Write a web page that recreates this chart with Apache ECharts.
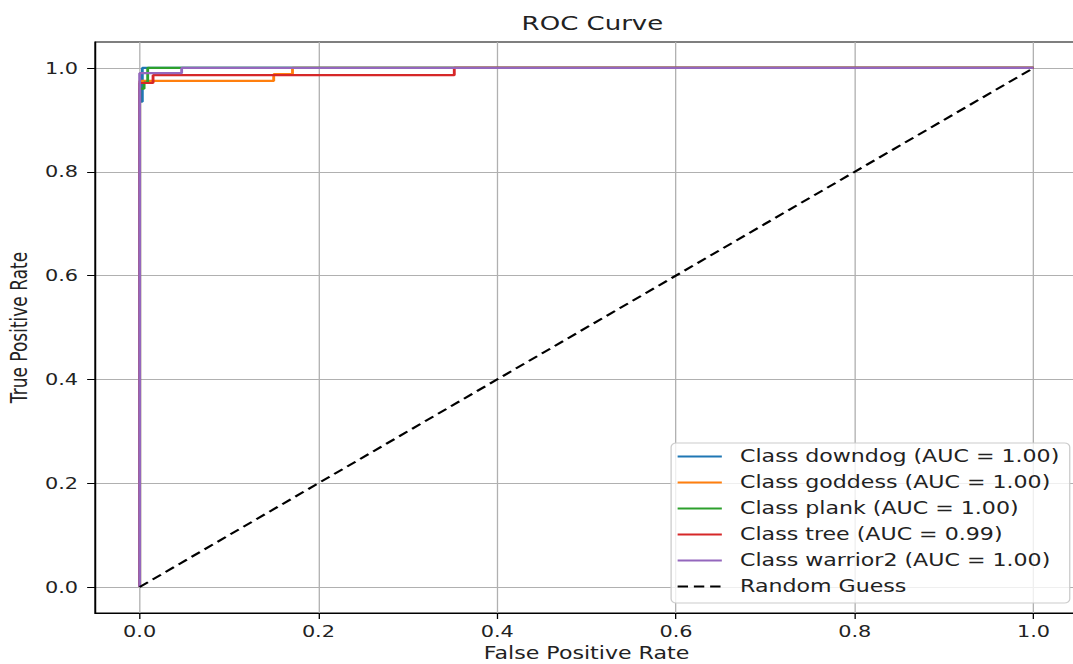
<!DOCTYPE html>
<html><head><meta charset="utf-8">
<script src="https://cdn.jsdelivr.net/npm/echarts@6/dist/echarts.min.js"></script>
<style>html,body{margin:0;padding:0;background:#fff;overflow:hidden}
#wrap{width:1073px;height:664px;overflow:hidden}
#c{width:825px;height:664px;transform:scaleX(1.30061);transform-origin:0 0}</style>
</head><body><div id="wrap"><div id="c"></div></div>
<script>
const tickValues = [0, 0.2, 0.4, 0.6, 0.8, 1.0];
const classNames = ['Class downdog (AUC = 1.00)','Class goddess (AUC = 1.00)','Class plank (AUC = 1.00)','Class tree (AUC = 0.99)','Class warrior2 (AUC = 1.00)'];
const randomName = 'Random Guess';
const downdogFpr = [0, 0, 0.003, 0.003, 1];
const downdogTpr = [0, 0.935, 0.935, 1, 1];
const goddessFpr = [0, 0, 0.15, 0.15, 0.171, 0.171, 1];
const goddessTpr = [0, 0.975, 0.975, 0.988, 0.988, 1, 1];
const plankFpr = [0, 0, 0.005, 0.005, 0.009, 0.009, 1];
const plankTpr = [0, 0.96, 0.96, 0.972, 0.972, 1, 1];
const treeFpr = [0, 0, 0.015, 0.015, 0.352, 0.352, 1];
const treeTpr = [0, 0.971, 0.971, 0.986, 0.986, 1, 1];
const warriorFpr = [0, 0, 0.047, 0.047, 1];
const warriorTpr = [0, 0.99, 0.99, 1, 1];
const randomFpr = [0, 1];
const randomTpr = [0, 1];

const colors = ['#1f77b4','#ff7f0e','#2ca02c','#d62728','#9467bd'];
const curves = [[downdogFpr,downdogTpr],[goddessFpr,goddessTpr],[plankFpr,plankTpr],[treeFpr,treeTpr],[warriorFpr,warriorTpr]];
const zip = (a,b) => a.map((v,i)=>[v,b[i]]);
const font = 'DejaVu Sans';
const series = curves.map((c,i)=>({
  name: classNames[i], type:'line', data: zip(c[0],c[1]), symbol:'none', showSymbol:false,
  lineStyle:{color:colors[i], width:2.2}, itemStyle:{color:colors[i]}, animation:false
}));
series.push({name:randomName, type:'line', data: zip(randomFpr,randomTpr), symbol:'none',
  lineStyle:{color:'#000', width:2, type:[8,4.5]}, itemStyle:{color:'#000'}, animation:false});

const axisCommon = {
  type:'value', min:-0.05, max:1.05,
  axisLine:{show:true, onZero:false, lineStyle:{color:'#000', width:1}},
  axisTick:{show:true, inside:false, customValues:tickValues, length:6, lineStyle:{color:'#000'}},
  axisLabel:{customValues:tickValues, formatter:v=>v.toFixed(1), color:'#222', fontFamily:font, fontSize:16},
  splitLine:{show:true, lineStyle:{color:'#b0b0b0', width:1}},
  nameLocation:'middle', nameTextStyle:{color:'#222', fontFamily:font, fontSize:17}
};
const chart = echarts.init(document.getElementById('c'), null, {renderer:'svg', width:825, height:664});
chart.setOption({
  animation:false,
  title:{text:'ROC Curve', left:450.5, top:8, textAlign:'center', textStyle:{fontFamily:font, fontSize:20, fontWeight:'normal', color:'#222'}},
  grid:{left:73, top:42, width:756, height:571, show:true, borderColor:'#000', borderWidth:1, containLabel:false, outerBoundsMode:'none'},
  xAxis:Object.assign({}, axisCommon, {name:'False Positive Rate', nameGap:32,
    axisLabel:Object.assign({}, axisCommon.axisLabel, {margin:10})}),
  yAxis:Object.assign({}, axisCommon, {name:'True Positive Rate', nameGap:47,
    axisLabel:Object.assign({}, axisCommon.axisLabel, {margin:13})}),
  legend:{orient:'vertical', left:516, top:443, itemWidth:34, itemHeight:10, itemGap:9,
    padding:[5,8,8,4], backgroundColor:'rgba(255,255,255,0.8)', borderColor:'#cccccc', borderWidth:1, borderRadius:4,
    itemStyle:{opacity:0},
    textStyle:{fontFamily:font, fontSize:17, color:'#222', padding:[0,0,0,9]},
    data: classNames.concat([randomName])},
  series: series
});
</script></body></html>
